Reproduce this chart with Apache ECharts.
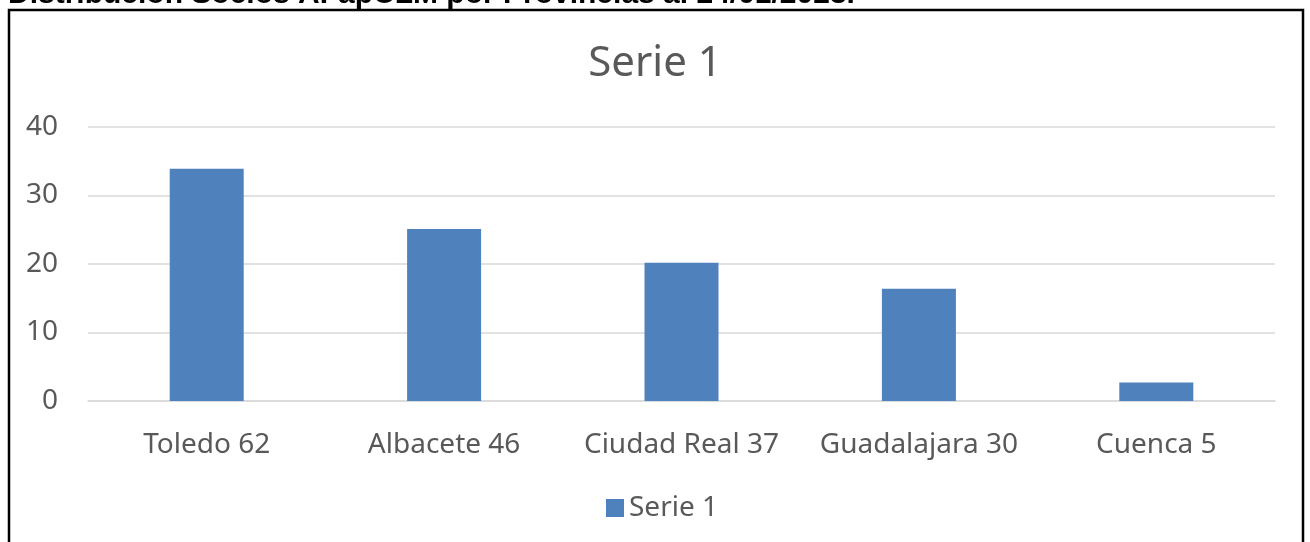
<!DOCTYPE html>
<html>
<head>
<meta charset="utf-8">
<script src="https://cdn.jsdelivr.net/npm/echarts@6/dist/echarts.min.js"></script>
<style>
  html, body { margin: 0; padding: 0; background: #fff; }
  #chart { width: 1310px; height: 542px; }
</style>
</head>
<body>
<div id="chart"></div>
<script>
var provincias = ['Toledo 62', 'Albacete 46', 'Ciudad Real 37', 'Guadalajara 30', 'Cuenca 5'];
var serie1 = [33.9, 25.1, 20.2, 16.4, 2.7];
var yTicks = [0, 10, 20, 30, 40];

var chart = echarts.init(document.getElementById('chart'));
var txt = '#595959';
var fam = '"Noto Sans", sans-serif';

chart.setOption({
    animation: false,
    backgroundColor: '#fff',
    textStyle: { fontFamily: fam },
    title: {
        text: 'Serie 1',
        left: 'center',
        top: 38,
        textStyle: { color: txt, fontSize: 42, fontWeight: 'normal', fontFamily: fam }
    },
    graphic: [
        {
            type: 'text',
            left: 8,
            top: -20,
            style: {
                text: 'Distribución Socios AFapCLM por Provincias al 24/01/2023.',
                fill: '#000',
                font: 'bold 30px "Liberation Sans", Arial, sans-serif'
            }
        },
        {
            type: 'rect',
            shape: { x: 9, y: 10, width: 1294, height: 560 },
            style: { fill: 'none', stroke: '#000', lineWidth: 2.5 }
        }
    ],
    legend: {
        data: ['Serie 1'],
        icon: 'rect',
        left: 601,
        top: 489,
        itemWidth: 18,
        itemHeight: 18,
        itemGap: 8,
        textStyle: { color: txt, fontSize: 28, fontFamily: fam }
    },
    grid: { left: 88, right: 35, top: 127, bottom: 141 },
    xAxis: {
        type: 'category',
        data: provincias,
        axisLine: { lineStyle: { color: '#d9d9d9', width: 1.5 } },
        axisTick: { show: false },
        axisLabel: { color: txt, fontSize: 28, margin: 30, interval: 0, fontFamily: fam }
    },
    yAxis: {
        type: 'value',
        min: yTicks[0],
        max: yTicks[yTicks.length - 1],
        interval: 10,
        axisLine: { show: false },
        axisTick: { show: false },
        splitLine: { lineStyle: { color: '#d9d9d9', width: 1.5 } },
        axisLabel: { color: txt, fontSize: 28, margin: 30, fontFamily: fam }
    },
    series: [{
        name: 'Serie 1',
        type: 'bar',
        data: serie1,
        barWidth: 74,
        itemStyle: { color: '#4f81bd' }
    }]
});
</script>
</body>
</html>
